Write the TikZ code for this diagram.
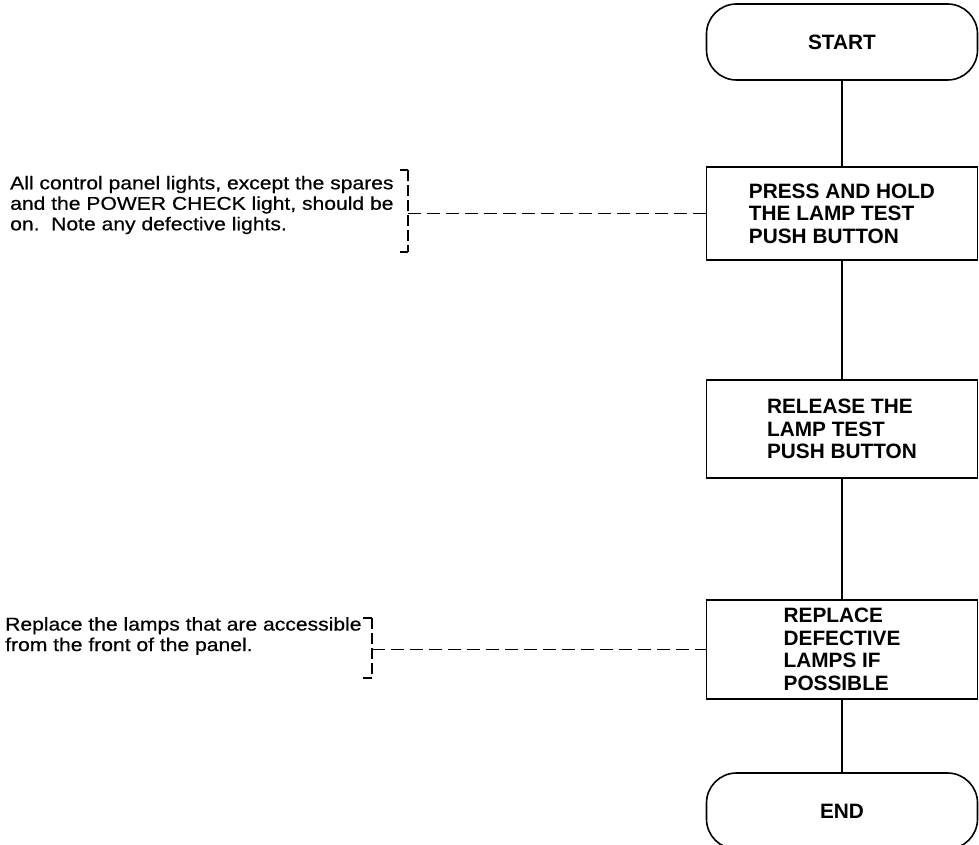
\documentclass[tikz,border=0pt]{standalone}
\usepackage{fontspec}
\setmainfont{Liberation Sans}
\newfontfamily\notefont{Liberation Sans}[FakeStretch=1.14, FakeBold=0.5]

\tikzset{
  flowbox/.style={draw, line width=1.6pt, minimum width=271pt, align=left,
    font=\bfseries\fontsize{20.8}{22.6}\selectfont, inner sep=0pt},
  terminal/.style={flowbox, rounded corners=30pt, minimum height=76pt},
  note/.style={anchor=west, align=left, inner sep=0pt,
    font=\notefont\fontsize{18.5}{20.5}\selectfont},
  flowline/.style={draw, line width=2pt},
  leader/.style={line width=1.5pt, dash pattern=on 13pt off 6pt},
  bracketline/.style={line width=1.5pt, dash pattern=on 11pt off 4pt},
}

\begin{document}
\begin{tikzpicture}[x=1pt, y=-1pt]
  \useasboundingbox (0,0) rectangle (979,845);
  % flow
  \node[terminal] (start) at (842,42) {START};
  \node[flowbox, minimum height=93pt] (press) at (842,213.5) {PRESS AND HOLD\\THE LAMP TEST\\PUSH BUTTON};
  \node[flowbox, minimum height=98pt] (release) at (842,429) {RELEASE THE\\LAMP TEST\\PUSH BUTTON};
  \node[flowbox, minimum height=99pt] (replace) at (842,649.5) {REPLACE\\DEFECTIVE\\LAMPS IF\\POSSIBLE};
  \node[terminal] (stop) at (842,811) {END};
  \path  (start) edge[flowline] (press)
         (press) edge[flowline] (release)
         (release) edge[flowline] (replace)
         (replace) edge[flowline] (stop);
  % notes
  \node[note] (noteA) at (10,205) {All control panel lights, except the spares\\and the POWER CHECK light, should be\\on.\ \ Note any defective lights.};
  \node[note] (noteB) at (5,636) {Replace the lamps that are accessible\\from the front of the panel.};
  % brackets
  \coordinate (bracketA) at (408,213.5);
  \draw[line width=1.5pt] (400,170) -- (408,170) (400,252) -- (408,252);
  \draw[bracketline] (408,170) -- (408,252);
  \draw[leader] (bracketA) -- (press.west);
  \coordinate (bracketB) at (372,649.5);
  \draw[line width=1.5pt] (363,618) -- (372,618) (363,678) -- (372,678);
  \draw[bracketline] (372,618) -- (372,678);
  \draw[leader] (bracketB) -- (replace.west);
\end{tikzpicture}
\end{document}
